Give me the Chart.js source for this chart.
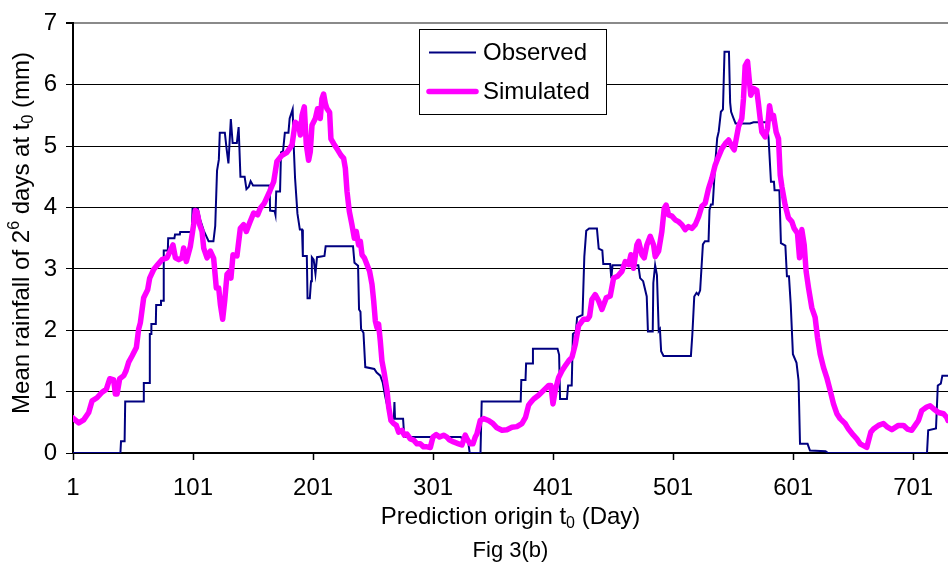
<!DOCTYPE html>
<html>
<head>
<meta charset="utf-8">
<script src="https://cdn.jsdelivr.net/npm/chart.js@4.4.1/dist/chart.umd.min.js"></script>
<style>
  html, body { margin: 0; padding: 0; background: #ffffff; }
  #wrap { width: 948px; height: 568px; }
</style>
</head>
<body>
<div id="wrap"><canvas id="chart" width="948" height="568"></canvas></div>
<script>
// Day index (prediction origin) and mean rainfall values for each series
const observedDays = [1,40.5,41,44,44.5,59.6,60,64.6,65,66,66.3,70,70.3,74,74.3,76,76.6,80,80.3,85.5,86,90,90.3,100,100.6,105,107,110,114,118,119.5,121,122.5,123.3,127.5,129,130.5,132.5,134,137.5,139,140.5,144,145.5,147.5,149,151,164.8,165.2,169,169.7,170.3,173.5,174.3,176,177.5,180.5,181.5,184,185,186,188,190,191.8,192.5,195.8,196.4,198.3,199.3,200,201.5,203,204.3,210.5,211.5,234.3,235.5,238.5,239.3,240.5,241,243,244.5,252,254,257,259,261,264,266.5,268.3,268.8,269.3,276,277,324,326,330,331.5,340.5,341.5,374,374.5,378,378.5,383.5,384.2,404.7,406,406.8,412.5,413.5,416.5,417.5,420,421,425.5,427,428.6,431,437.5,439,442,442.8,448.5,449.5,450.5,472,473.5,476,479,480,484,484.5,486,487.5,489,490,491,493,515.8,517,518.6,520.5,522,523.5,525.8,527.5,530.5,531.3,532.5,534,536,537.7,539,540.8,542.5,543.8,547.5,548.5,549.3,551,553,565,568,579,580.5,582.5,585,585.5,589.5,590.8,594.5,595.8,597.5,599,600.8,603.8,605.5,606.7,613,615,628,630,712.5,713.5,720,721.5,724,725.3,730];
const observedValues = [0,0,0.19,0.19,0.84,0.84,1.14,1.14,1.94,1.94,2.10,2.10,2.41,2.41,2.48,2.48,3.30,3.30,3.50,3.50,3.56,3.56,3.60,3.60,3.98,3.98,3.80,3.62,3.45,3.45,3.70,4.60,4.78,5.22,5.22,4.95,4.72,5.44,5.05,5.05,5.31,4.50,4.50,4.30,4.34,4.43,4.36,4.36,3.95,3.94,3.88,4.26,4.26,4.90,4.92,5.22,5.22,5.45,5.60,4.95,4.48,3.90,3.64,3.64,3.21,3.21,2.52,2.52,2.80,3.19,3.15,2.92,3.19,3.21,3.37,3.37,3.10,3.05,2.34,2.30,2.02,1.96,1.40,1.37,1.31,1.26,1.15,0.93,0.66,0.56,0.56,0.83,0.56,0.56,0.26,0.26,0.22,0.22,0,0,0.84,0.84,1.19,1.19,1.46,1.46,1.70,1.70,1.60,0.88,0.88,1.10,1.10,1.94,1.98,2.21,2.25,3.20,3.62,3.66,3.66,3.33,3.30,3.08,3.08,2.85,3.06,3.06,2.85,2.80,2.55,1.98,1.98,2.77,3.06,2.90,1.99,2.02,1.66,1.58,1.58,1.93,2.55,2.61,2.58,2.65,3.40,3.45,3.45,3.96,4.05,4.05,4.70,5.13,5.24,5.56,5.60,6.54,6.54,5.71,5.56,5.47,5.37,5.37,5.39,5.39,5.13,4.42,4.42,4.28,4.28,3.42,3.38,2.88,2.88,2.41,1.61,1.47,1.18,0.15,0.15,0.04,0.03,0,0,0.37,0.40,1.10,1.13,1.26,1.26];

const simulatedDays = [1,5.8,9.9,14.1,16.9,21,25.2,28.8,31.6,34.9,36.3,37.7,39.9,43.3,45.2,47.4,50.2,53.8,55.7,57.1,59.9,63.2,64.9,68.2,71.6,75.2,79.3,84.3,86.3,89.1,91.8,93.2,95.4,98.8,101.5,102.9,104.3,106.5,108.5,109.9,112.7,115.4,118.2,120.4,122.4,123.8,125.7,127.4,129.3,131.5,132.6,134.3,137.6,140.4,143.2,145.4,148.2,151.5,154.8,157.1,160.4,164.8,168.2,170.9,175.1,179.3,183.5,186.2,189,190.4,191.8,193.7,195.4,197.3,198.7,200.1,202.9,204.8,207,208.4,209.8,211.2,212.6,214.8,215.9,218.2,221.5,224.3,226.5,227.9,229.3,231.2,233.4,235.4,237,239,240.4,241.8,243.7,245.9,248.1,250.1,251.5,252.9,254.3,255.6,257,258.4,260.4,262.6,264,265.9,268.1,270.4,272.3,275.1,277,279.2,282,284.8,287.6,290.3,293.1,295.9,298.7,300.9,303.7,306.4,309.8,312.5,314.8,318.1,322.3,325,327.8,329.8,332,334.2,336.1,337.5,340.3,343.1,347.2,350.9,354.2,358.4,362.5,366.7,370.8,375,378,380.6,382.5,384.8,388.9,393.1,397.3,399.2,400.9,402.8,405.6,408.4,411.1,413.9,416.7,419.5,422.2,426.4,429.7,431.4,433.3,436.1,438.9,441.7,445.3,448.6,451.4,454.7,458.3,461.1,463.9,465.8,468,470.8,472.2,475,476.9,479.1,481.9,484.7,486.1,488.9,491.6,493.6,495.2,497.2,500,502.7,505.5,508.3,511.1,513.8,516.6,519.4,522.2,524.9,527.7,530.5,533.3,536,538.8,541.6,544.4,547.2,549.9,551.9,555.5,558.2,559.6,561,563,564.6,565.7,568,570.7,572.1,573.5,574.9,577.7,579.6,581.3,583.2,584.6,586.8,588.8,590.2,591.6,594.3,597.1,599.9,601.8,604.6,606.3,608.2,610.2,611.8,613.8,616.5,619.3,621.3,623.5,626.3,629,631.8,634.6,637.4,640.1,644.3,647.1,651.2,654,656.8,659.6,662.3,665.7,667.9,672.1,676.2,679.6,683.2,688.7,692.9,696.2,699.8,702.6,705.4,708.1,712.3,715.1,717.9,722,726.2,729,730];
const simulatedValues = [0.57,0.49,0.54,0.66,0.85,0.90,0.99,1.04,1.21,1.19,0.96,0.96,1.21,1.26,1.34,1.48,1.58,1.72,2.02,2.12,2.53,2.66,2.85,2.99,3.07,3.15,3.18,3.39,3.18,3.15,3.18,3.34,3.12,3.37,3.72,3.95,3.93,3.72,3.61,3.34,3.18,3.29,3.17,2.69,2.69,2.42,2.18,2.48,2.91,2.96,2.85,3.23,3.21,3.66,3.72,3.61,3.75,3.91,3.88,3.99,4.07,4.26,4.42,4.75,4.85,4.90,5.02,5.39,5.34,5.18,5.50,5.64,5.02,4.77,4.91,5.34,5.45,5.61,5.45,5.77,5.85,5.70,5.61,5.55,5.12,5.04,4.94,4.85,4.80,4.64,4.26,3.94,3.72,3.50,3.61,3.39,3.45,3.23,3.18,3.07,2.96,2.75,2.48,2.15,2.04,2.10,1.83,1.50,1.29,1.02,0.75,0.53,0.48,0.45,0.34,0.37,0.29,0.31,0.23,0.21,0.15,0.15,0.10,0.10,0.09,0.26,0.30,0.26,0.29,0.26,0.21,0.18,0.15,0.13,0.29,0.21,0.15,0.15,0.26,0.31,0.53,0.56,0.53,0.48,0.41,0.37,0.38,0.42,0.43,0.48,0.58,0.78,0.83,0.88,0.94,1.02,1.10,1.10,0.80,1.02,1.23,1.34,1.42,1.50,1.56,1.77,2.07,2.18,2.18,2.23,2.50,2.58,2.48,2.34,2.53,2.56,2.85,2.88,2.96,3.12,3.07,3.23,3.01,3.39,3.45,3.23,3.18,3.39,3.53,3.39,3.20,3.29,3.61,3.99,4.04,3.88,3.86,3.80,3.77,3.72,3.64,3.69,3.66,3.72,3.85,4.02,4.07,4.31,4.48,4.69,4.83,4.96,5.04,5.10,5.00,4.94,5.32,5.45,5.77,6.31,6.38,6.04,5.83,5.94,5.91,5.69,5.45,5.23,5.15,5.29,5.66,5.45,5.50,5.23,5.12,4.53,4.34,4.04,3.83,3.77,3.66,3.58,3.18,3.64,3.39,2.96,2.69,2.37,2.21,1.88,1.61,1.39,1.23,1.02,0.80,0.64,0.56,0.48,0.39,0.29,0.23,0.15,0.12,0.09,0.34,0.39,0.45,0.48,0.42,0.38,0.45,0.45,0.39,0.37,0.45,0.53,0.69,0.75,0.77,0.72,0.66,0.64,0.58,0.53];

const xTickValues = [1, 101, 201, 301, 401, 501, 601, 701];
const yTickValues = [0, 1, 2, 3, 4, 5, 6, 7];

const FONT = "'Liberation Sans', Arial, Helvetica, sans-serif";

function toPoints(xs, ys) {
  return xs.map((x, i) => ({ x: x, y: ys[i] }));
}

// Text with superscript / subscript runs, centred on (cx, cy)
function drawRichText(ctx, runs, cx, cy, size) {
  const small = Math.round(size * 0.66);
  let total = 0;
  runs.forEach(r => {
    ctx.font = (r.pos ? small : size) + 'px ' + FONT;
    r.w = ctx.measureText(r.text).width;
    total += r.w;
  });
  let x = cx - total / 2;
  ctx.textAlign = 'left';
  ctx.textBaseline = 'middle';
  runs.forEach(r => {
    ctx.font = (r.pos ? small : size) + 'px ' + FONT;
    let dy = 0;
    if (r.pos === 'sup') dy = -size * 0.32;
    if (r.pos === 'sub') dy = size * 0.28;
    ctx.fillText(r.text, x, cy + dy);
    x += r.w;
  });
}

const captionPlugin = {
  id: 'captions',
  afterDraw(chart) {
    const ctx = chart.ctx;
    const area = chart.chartArea;
    ctx.save();
    ctx.fillStyle = '#000000';

    // Y axis title
    ctx.save();
    ctx.translate(22, 233);
    ctx.rotate(-Math.PI / 2);
    drawRichText(ctx, [
      { text: 'Mean rainfall of 2' },
      { text: '6', pos: 'sup' },
      { text: ' days at t' },
      { text: '0', pos: 'sub' },
      { text: ' (mm)' }
    ], 0, 0, 24);
    ctx.restore();

    // X axis title
    const midX = (area.left + area.right) / 2;
    drawRichText(ctx, [
      { text: 'Prediction origin t' },
      { text: '0', pos: 'sub' },
      { text: ' (Day)' }
    ], midX, 517, 24);

    // Figure caption
    drawRichText(ctx, [{ text: 'Fig 3(b)' }], midX, 551, 22);

    // Legend box
    const bx = 419.5, by = 29.5, bw = 187, bh = 85;
    ctx.fillStyle = '#ffffff';
    ctx.fillRect(bx, by, bw, bh);
    ctx.strokeStyle = '#000000';
    ctx.lineWidth = 1;
    ctx.strokeRect(bx, by, bw, bh);

    const rows = [52.5, 91.5];
    chart.data.datasets.forEach((ds, i) => {
      const y = rows[i];
      ctx.beginPath();
      ctx.strokeStyle = ds.borderColor;
      ctx.lineWidth = ds.borderWidth;
      ctx.lineCap = ds.borderCapStyle || 'butt';
      ctx.moveTo(429, y);
      ctx.lineTo(476, y);
      ctx.stroke();
      ctx.fillStyle = '#000000';
      ctx.font = '24px ' + FONT;
      ctx.textAlign = 'left';
      ctx.textBaseline = 'middle';
      ctx.fillText(ds.label, 483, y + 1);
    });
    ctx.restore();
  }
};

new Chart(document.getElementById('chart'), {
  type: 'line',
  data: {
    datasets: [
      {
        label: 'Observed',
        data: toPoints(observedDays, observedValues),
        borderColor: '#000080',
        borderWidth: 2,
        pointRadius: 0,
        tension: 0,
        order: 1
      },
      {
        label: 'Simulated',
        data: toPoints(simulatedDays, simulatedValues),
        borderColor: '#ff00ff',
        borderWidth: 5.5,
        borderCapStyle: 'round',
        borderJoinStyle: 'round',
        pointRadius: 0,
        tension: 0,
        order: 0
      }
    ]
  },
  options: {
    responsive: false,
    animation: false,
    devicePixelRatio: 1,
    layout: { padding: { top: 21, right: 0, bottom: 0, left: 0 } },
    plugins: {
      legend: { display: false },
      tooltip: { enabled: false },
      title: { display: false }
    },
    scales: {
      x: {
        type: 'linear',
        min: 1,
        max: 730,
        afterBuildTicks: s => { s.ticks = xTickValues.map(v => ({ value: v })); },
        afterFit: s => { s.height = 115; },
        grid: {
          drawOnChartArea: false,
          drawTicks: true,
          tickLength: 7,
          tickColor: '#000000',
          tickWidth: 1.5
        },
        border: { display: true, color: '#000000', width: 2 },
        ticks: {
          color: '#000000',
          font: { family: FONT, size: 24 },
          padding: 14,
          maxRotation: 0,
          autoSkip: false
        }
      },
      y: {
        type: 'linear',
        min: 0,
        max: 7,
        afterBuildTicks: s => { s.ticks = yTickValues.map(v => ({ value: v })); },
        afterFit: s => { s.width = 73; },
        grid: {
          color: c => (c.tick && c.tick.value === 7) ? '#8a8a8a' : '#000000',
          lineWidth: c => (c.tick && c.tick.value === 7) ? 2 : 1,
          drawTicks: true,
          tickLength: 7,
          tickColor: '#000000'
        },
        border: { display: true, color: '#000000', width: 2 },
        ticks: {
          color: '#000000',
          font: { family: FONT, size: 24 },
          padding: 9
        }
      }
    }
  },
  plugins: [captionPlugin]
});
</script>
</body>
</html>
